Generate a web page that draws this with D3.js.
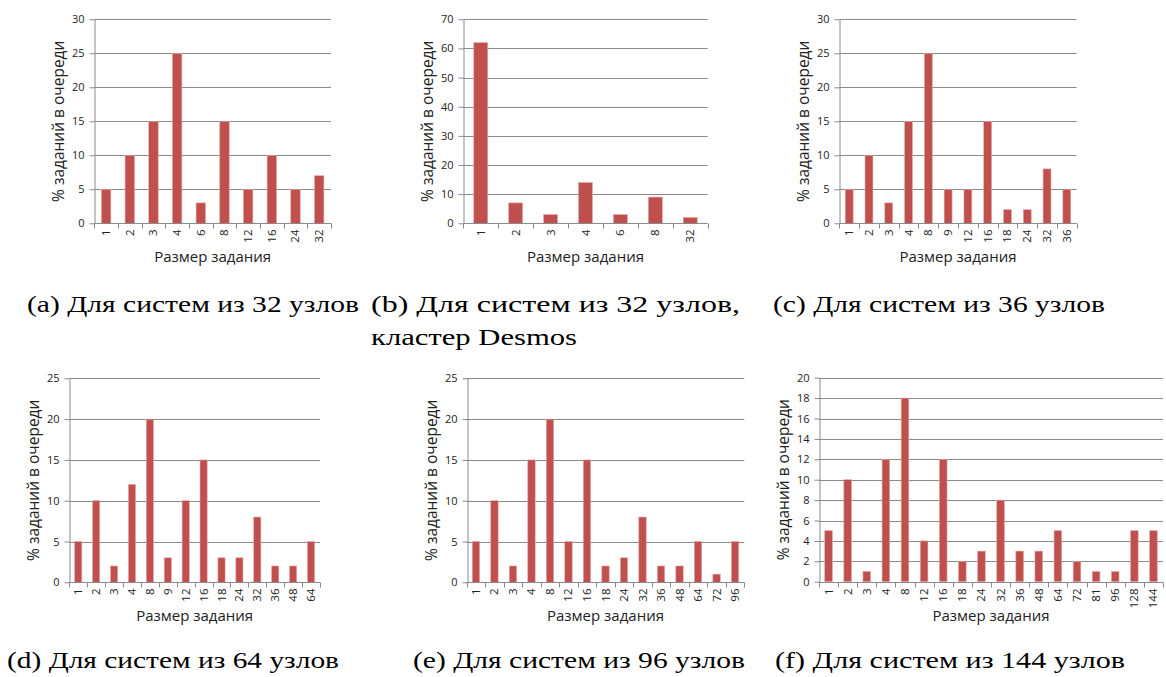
<!DOCTYPE html>
<html>
<head>
    <meta charset="utf-8">
    <title>Размер задания</title>
    <script type="text/javascript" src="https://cdn.jsdelivr.net/npm/d3@7"></script>
    <style>
        body { margin: 0; background: #fff; }
        svg text { font-family: "Open Sans", sans-serif; fill: #222; }
        svg text.caption { font-family: "Liberation Serif", serif; fill: #000; }
    </style>
</head>
<body>
<script type="text/javascript">
// data
let sizesA = ['1', '2', '3', '4', '6', '8', '12', '16', '24', '32']
let valuesA = [5, 10, 15, 25, 3, 15, 5, 10, 5, 7]

let sizesB = ['1', '2', '3', '4', '6', '8', '32']
let valuesB = [62, 7, 3, 14, 3, 9, 2]

let sizesC = ['1', '2', '3', '4', '8', '9', '12', '16', '18', '24', '32', '36']
let valuesC = [5, 10, 3, 15, 25, 5, 5, 15, 2, 2, 8, 5]

let sizesD = ['1', '2', '3', '4', '8', '9', '12', '16', '18', '24', '32', '36', '48', '64']
let valuesD = [5, 10, 2, 12, 20, 3, 10, 15, 3, 3, 8, 2, 2, 5]

let sizesE = ['1', '2', '3', '4', '8', '12', '16', '18', '24', '32', '36', '48', '64', '72', '96']
let valuesE = [5, 10, 2, 15, 20, 5, 15, 2, 3, 8, 2, 2, 5, 1, 5]

let sizesF = ['1', '2', '3', '4', '8', '12', '16', '18', '24', '32', '36', '48', '64', '72', '81', '96', '128', '144']
let valuesF = [5, 10, 1, 12, 18, 4, 12, 2, 3, 8, 3, 3, 5, 2, 1, 1, 5, 5]

let yTicksA = [0, 5, 10, 15, 20, 25, 30]
let yTicksB = [0, 10, 20, 30, 40, 50, 60, 70]
let yTicksD = [0, 5, 10, 15, 20, 25]
let yTicksF = [0, 2, 4, 6, 8, 10, 12, 14, 16, 18, 20]

let yTitle = '% заданий в очереди'
let xTitle = 'Размер задания'

let width = 1166,
    height = 677,
    barColor = '#c0504d',
    gridColor = '#8a8a8a'

let charts = [
    {sizes: sizesA, values: valuesA, ticks: yTicksA, x0: 94.3, x1: 331, y0: 19.3, y1: 223.3},
    {sizes: sizesB, values: valuesB, ticks: yTicksB, x0: 463.3, x1: 707.7, y0: 19.3, y1: 223.3},
    {sizes: sizesC, values: valuesC, ticks: yTicksA, x0: 839.3, x1: 1076.7, y0: 19.3, y1: 223.3},
    {sizes: sizesD, values: valuesD, ticks: yTicksD, x0: 69.3, x1: 320, y0: 378.3, y1: 582.3},
    {sizes: sizesE, values: valuesE, ticks: yTicksD, x0: 466.7, x1: 744.3, y0: 378.3, y1: 582.3},
    {sizes: sizesF, values: valuesF, ticks: yTicksF, x0: 819, x1: 1163, y0: 377.7, y1: 581.7}
]

let captions = [
    {lines: ['(a) Для систем из 32 узлов'], x: 27, y: 312, w: [332]},
    {lines: ['(b) Для систем из 32 узлов,', 'кластер Desmos'], x: 371, y: 312, w: [369, 206]},
    {lines: ['(c) Для систем из 36 узлов'], x: 773, y: 312, w: [332]},
    {lines: ['(d) Для систем из 64 узлов'], x: 7, y: 668, w: [332]},
    {lines: ['(e) Для систем из 96 узлов'], x: 413, y: 668, w: [332]},
    {lines: ['(f) Для систем из 144 узлов'], x: 775, y: 668, w: [350]}
]

let svg = d3.select('body').append('svg')
    .attr('width', width)
    .attr('height', height)

let render = function(c){
    let x = d3.scaleBand()
        .domain(c.sizes)
        .range([c.x0, c.x1])
        .paddingInner(0.6)
        .paddingOuter(0.3)
    let y = d3.scaleLinear()
        .domain([0, d3.max(c.ticks)])
        .range([c.y1, c.y0])

    let g = svg.append('g')

    // grid
    g.selectAll('line.grid').data(c.ticks.slice(1))
        .join('line')
        .classed('grid', true)
        .attr('x1', c.x0).attr('x2', c.x1)
        .attr('y1', d => Math.round(y(d)) + 0.5).attr('y2', d => Math.round(y(d)) + 0.5)
        .attr('stroke', gridColor)

    // bars
    g.selectAll('rect').data(c.values)
        .join('rect')
        .attr('x', (d, i) => x(c.sizes[i]))
        .attr('width', x.bandwidth())
        .attr('y', d => y(d))
        .attr('height', d => y(0) - y(d))
        .attr('fill', barColor)
        .attr('stroke', '#e3a9a8')
        .attr('stroke-width', 0.6)

    // y axis
    let yAxis = g.append('g')
        .attr('transform', 'translate(' + (Math.round(c.x0) + 0.5) + ',0)')
        .call(d3.axisLeft(y).tickValues(c.ticks).tickSize(5).tickPadding(5).tickSizeOuter(0))
    yAxis.selectAll('line, path').attr('stroke', gridColor)
    yAxis.selectAll('text').style('font-size', '11px')

    // x axis with ticks between categories
    let step = x.step()
    let bounds = d3.range(c.sizes.length + 1).map(i => c.x0 + i * step)
    let xAxis = g.append('g')
        .attr('transform', 'translate(0,' + (Math.round(c.y1) + 0.5) + ')')
    xAxis.append('line')
        .attr('x1', c.x0).attr('x2', c.x1)
        .attr('stroke', gridColor)
    xAxis.selectAll('line.tick').data(bounds)
        .join('line')
        .classed('tick', true)
        .attr('x1', d => Math.round(d) + 0.5).attr('x2', d => Math.round(d) + 0.5)
        .attr('y1', 0).attr('y2', 5)
        .attr('stroke', gridColor)
    xAxis.selectAll('text').data(c.sizes)
        .join('text')
        .attr('transform', d => 'translate(' + (x(d) + x.bandwidth() / 2 + 4) + ',6) rotate(-90)')
        .attr('text-anchor', 'end')
        .style('font-size', '11.5px')
        .text(d => d)

    // titles
    g.append('text')
        .attr('x', (c.x0 + c.x1) / 2)
        .attr('y', c.y1 + 39)
        .attr('text-anchor', 'middle')
        .style('font-size', '15px')
        .text(xTitle)
    g.append('text')
        .attr('transform', 'translate(' + (c.x0 - 30) + ',' + ((c.y0 + c.y1) / 2) + ') rotate(-90)')
        .attr('text-anchor', 'middle')
        .style('font-size', '15.5px')
        .text(yTitle)
}

charts.forEach(render)

captions.forEach(function(cap){
    cap.lines.forEach(function(line, i){
        svg.append('text')
            .classed('caption', true)
            .attr('x', cap.x)
            .attr('y', cap.y + i * 33)
            .attr('textLength', cap.w[i])
            .attr('lengthAdjust', 'spacingAndGlyphs')
            .style('font-size', '24px')
            .text(line)
    })
})
</script>
</body>
</html>
